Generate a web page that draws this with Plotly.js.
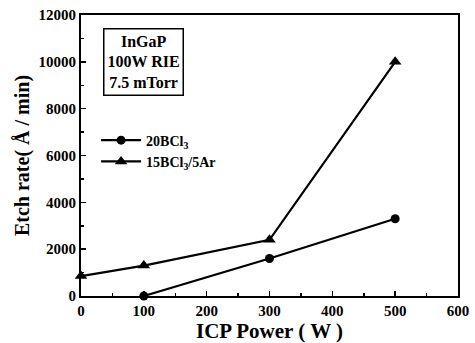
<!DOCTYPE html>
<html><head><meta charset="utf-8">
<script src="https://cdn.plot.ly/plotly-3.0.1.min.js"></script>
<style>body{margin:0;background:#fff}#c{width:475px;height:343px}</style>
</head><body><div id="c"></div>
<script>
const powerA = [100, 300, 500];
const rateA = [0, 1600, 3300];
const powerB = [0, 100, 300, 500];
const rateB = [850, 1300, 2400, 10000];
const nameA = '<b>20BCl<sub>3</sub></b>';
const nameB = '<b>15BCl<sub>3</sub>/5Ar</b>';
const xTicks = [0, 100, 200, 300, 400, 500, 600];
const xLabels = ['0', '100', '200', '300', '400', '500', '600'];
const yTicks = [0, 2000, 4000, 6000, 8000, 10000, 12000];
const yLabels = ['0', '2000', '4000', '6000', '8000', '10000', '12000'];
const font = 'Liberation Serif, Times New Roman, serif';
const traces = [
  {x: powerA, y: rateA, name: nameA, mode: 'lines+markers', cliponaxis: false,
   line: {color: '#000', width: 2.2}, marker: {symbol: 'circle', size: 9, color: '#000'}},
  {x: powerB, y: rateB, name: nameB, mode: 'lines+markers', cliponaxis: false,
   line: {color: '#000', width: 2.2}, marker: {symbol: 'triangle-up', size: 11, color: '#000'}}
];
const axBase = {
  showgrid: false, zeroline: false, showline: true, linecolor: '#000', linewidth: 2,
  mirror: true, ticks: 'inside', ticklen: 5, tickwidth: 1.5, tickcolor: '#000',
  tickfont: {family: font, size: 15, color: '#000', weight: 'bold'}
};
const bold = a => a.map(s => '<b>' + s + '</b>');
const layout = {
  width: 475, height: 343,
  margin: {l: 81, r: 17, t: 15, b: 47},
  paper_bgcolor: '#fff', plot_bgcolor: '#fff',
  font: {family: font, color: '#000'},
  showlegend: true,
  legend: {x: 0.04, y: 0.61, xanchor: 'left', yanchor: 'top', bgcolor: 'rgba(0,0,0,0)',
    font: {family: font, size: 14, color: '#000', weight: 'bold'}, tracegroupgap: 0, itemwidth: 40},
  xaxis: Object.assign({}, axBase, {range: [0, 600], tickvals: xTicks, ticktext: bold(xLabels),
    minor: {dtick: 50, ticks: 'inside', ticklen: 3, tickcolor: '#000'},
    title: {text: '<b>ICP Power ( W )</b>', standoff: 2, font: {family: font, size: 21, weight: 'bold', color: '#000'}}}),
  yaxis: Object.assign({}, axBase, {range: [0, 12000], tickvals: yTicks, ticktext: bold(yLabels),
    minor: {dtick: 1000, ticks: 'inside', ticklen: 3, tickcolor: '#000'},
    title: {text: '<b>Etch rate( Å / min)</b>', standoff: 4, font: {family: font, size: 20, weight: 'bold', color: '#000'}}}),
  annotations: [{
    xref: 'paper', yref: 'paper', x: 0.058, y: 0.955, xanchor: 'left', yanchor: 'top',
    text: '<b>InGaP<br>100W RIE<br>7.5 mTorr</b>', showarrow: false, align: 'center',
    bordercolor: '#000', borderwidth: 1.5, borderpad: 3, bgcolor: '#fff',
    font: {family: font, size: 16, color: '#000', weight: 'bold'}
  }]
};
Plotly.newPlot('c', traces, layout, {displayModeBar: false, staticPlot: true});
</script></body></html>
